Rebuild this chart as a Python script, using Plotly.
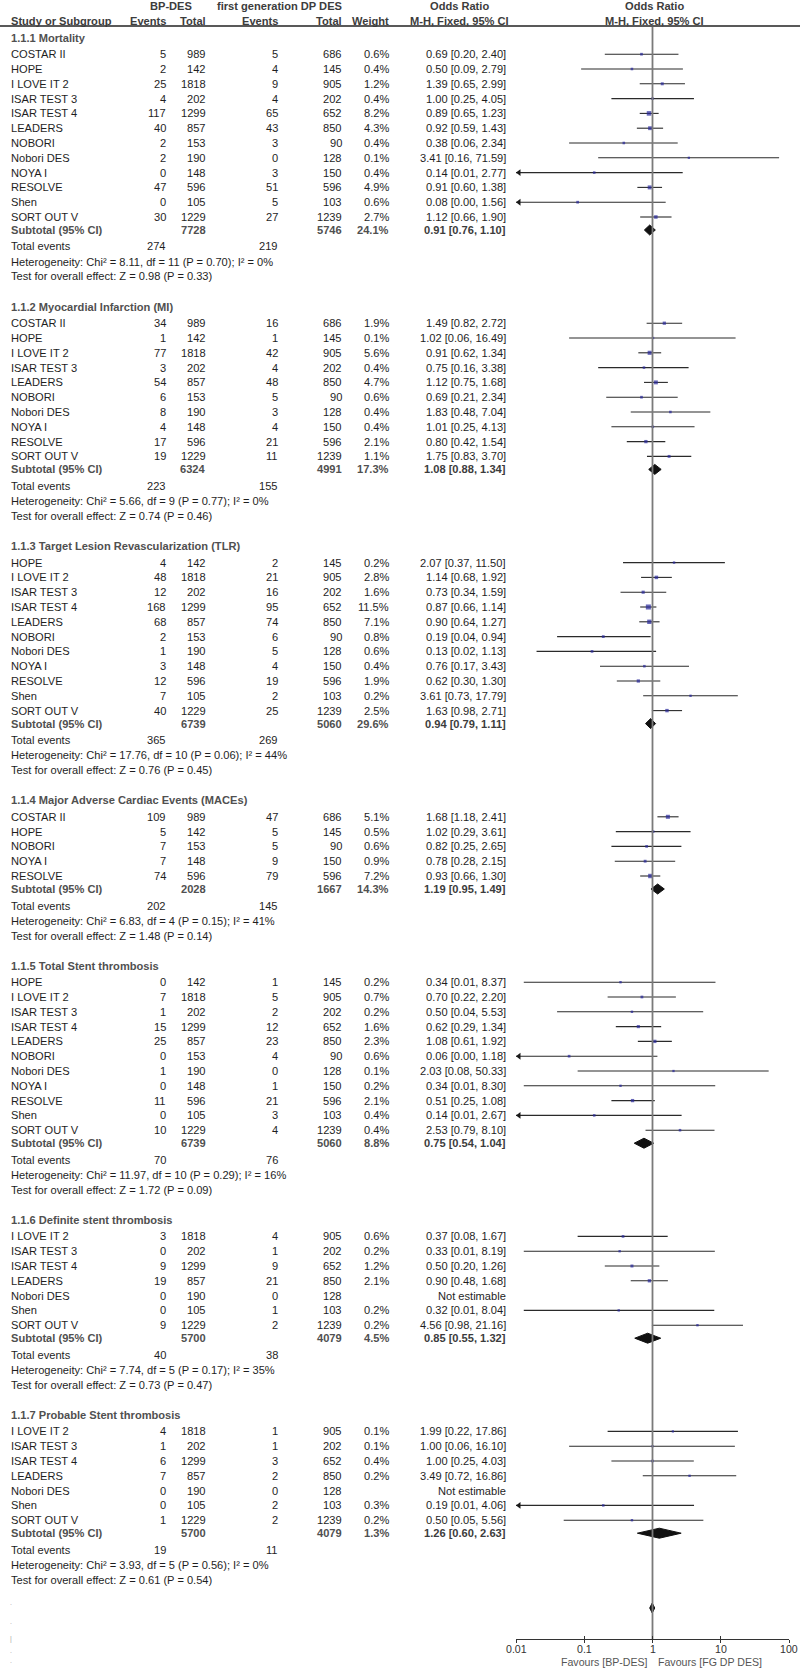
import math
import plotly.graph_objects as go

# ---------------- DATA ----------------
section_titles = [
    "1.1.1 Mortality",
    "1.1.2 Myocardial Infarction (MI)",
    "1.1.3 Target Lesion Revascularization (TLR)",
    "1.1.4 Major Adverse Cardiac Events (MACEs)",
    "1.1.5 Total Stent thrombosis",
    "1.1.6 Definite stent thrombosis",
    "1.1.7 Probable Stent thrombosis",
]

s1_study = ["COSTAR II", "HOPE", "I LOVE IT 2", "ISAR TEST 3", "ISAR TEST 4", "LEADERS", "NOBORI",
            "Nobori DES", "NOYA I", "RESOLVE", "Shen", "SORT OUT V"]
s1_bp_events = [5, 2, 25, 4, 117, 40, 2, 2, 0, 47, 0, 30]
s1_bp_total = [989, 142, 1818, 202, 1299, 857, 153, 190, 148, 596, 105, 1229]
s1_dp_events = [5, 4, 9, 4, 65, 43, 3, 0, 3, 51, 5, 27]
s1_dp_total = [686, 145, 905, 202, 652, 850, 90, 128, 150, 596, 103, 1239]
s1_weight = [0.6, 0.4, 1.2, 0.4, 8.2, 4.3, 0.4, 0.1, 0.4, 4.9, 0.6, 2.7]
s1_or = [0.69, 0.50, 1.39, 1.00, 0.89, 0.92, 0.38, 3.41, 0.14, 0.91, 0.08, 1.12]
s1_lo = [0.20, 0.09, 0.65, 0.25, 0.65, 0.59, 0.06, 0.16, 0.007, 0.60, 0.003, 0.66]
s1_hi = [2.40, 2.79, 2.99, 4.05, 1.23, 1.43, 2.34, 71.59, 2.77, 1.38, 1.56, 1.90]

s2_study = ["COSTAR II", "HOPE", "I LOVE IT 2", "ISAR TEST 3", "LEADERS", "NOBORI", "Nobori DES",
            "NOYA I", "RESOLVE", "SORT OUT V"]
s2_bp_events = [34, 1, 77, 3, 54, 6, 8, 4, 17, 19]
s2_bp_total = [989, 142, 1818, 202, 857, 153, 190, 148, 596, 1229]
s2_dp_events = [16, 1, 42, 4, 48, 5, 3, 4, 21, 11]
s2_dp_total = [686, 145, 905, 202, 850, 90, 128, 150, 596, 1239]
s2_weight = [1.9, 0.1, 5.6, 0.4, 4.7, 0.6, 0.4, 0.4, 2.1, 1.1]
s2_or = [1.49, 1.02, 0.91, 0.75, 1.12, 0.69, 1.83, 1.01, 0.80, 1.75]
s2_lo = [0.82, 0.06, 0.62, 0.16, 0.75, 0.21, 0.48, 0.25, 0.42, 0.83]
s2_hi = [2.72, 16.49, 1.34, 3.38, 1.68, 2.34, 7.04, 4.13, 1.54, 3.70]

s3_study = ["HOPE", "I LOVE IT 2", "ISAR TEST 3", "ISAR TEST 4", "LEADERS", "NOBORI", "Nobori DES",
            "NOYA I", "RESOLVE", "Shen", "SORT OUT V"]
s3_bp_events = [4, 48, 12, 168, 68, 2, 1, 3, 12, 7, 40]
s3_bp_total = [142, 1818, 202, 1299, 857, 153, 190, 148, 596, 105, 1229]
s3_dp_events = [2, 21, 16, 95, 74, 6, 5, 4, 19, 2, 25]
s3_dp_total = [145, 905, 202, 652, 850, 90, 128, 150, 596, 103, 1239]
s3_weight = [0.2, 2.8, 1.6, 11.5, 7.1, 0.8, 0.6, 0.4, 1.9, 0.2, 2.5]
s3_or = [2.07, 1.14, 0.73, 0.87, 0.90, 0.19, 0.13, 0.76, 0.62, 3.61, 1.63]
s3_lo = [0.37, 0.68, 0.34, 0.66, 0.64, 0.04, 0.02, 0.17, 0.30, 0.73, 0.98]
s3_hi = [11.50, 1.92, 1.59, 1.14, 1.27, 0.94, 1.13, 3.43, 1.30, 17.79, 2.71]

s4_study = ["COSTAR II", "HOPE", "NOBORI", "NOYA I", "RESOLVE"]
s4_bp_events = [109, 5, 7, 7, 74]
s4_bp_total = [989, 142, 153, 148, 596]
s4_dp_events = [47, 5, 5, 9, 79]
s4_dp_total = [686, 145, 90, 150, 596]
s4_weight = [5.1, 0.5, 0.6, 0.9, 7.2]
s4_or = [1.68, 1.02, 0.82, 0.78, 0.93]
s4_lo = [1.18, 0.29, 0.25, 0.28, 0.66]
s4_hi = [2.41, 3.61, 2.65, 2.15, 1.30]

s5_study = ["HOPE", "I LOVE IT 2", "ISAR TEST 3", "ISAR TEST 4", "LEADERS", "NOBORI", "Nobori DES",
            "NOYA I", "RESOLVE", "Shen", "SORT OUT V"]
s5_bp_events = [0, 7, 1, 15, 25, 0, 1, 0, 11, 0, 10]
s5_bp_total = [142, 1818, 202, 1299, 857, 153, 190, 148, 596, 105, 1229]
s5_dp_events = [1, 5, 2, 12, 23, 4, 0, 1, 21, 3, 4]
s5_dp_total = [145, 905, 202, 652, 850, 90, 128, 150, 596, 103, 1239]
s5_weight = [0.2, 0.7, 0.2, 1.6, 2.3, 0.6, 0.1, 0.2, 2.1, 0.4, 0.4]
s5_or = [0.34, 0.70, 0.50, 0.62, 1.08, 0.06, 2.03, 0.34, 0.51, 0.14, 2.53]
s5_lo = [0.013, 0.22, 0.04, 0.29, 0.61, 0.003, 0.08, 0.013, 0.25, 0.007, 0.79]
s5_hi = [8.37, 2.20, 5.53, 1.34, 1.92, 1.18, 50.33, 8.30, 1.08, 2.67, 8.10]

s6_study = ["I LOVE IT 2", "ISAR TEST 3", "ISAR TEST 4", "LEADERS", "Nobori DES", "Shen", "SORT OUT V"]
s6_bp_events = [3, 0, 9, 19, 0, 0, 9]
s6_bp_total = [1818, 202, 1299, 857, 190, 105, 1229]
s6_dp_events = [4, 1, 9, 21, 0, 1, 2]
s6_dp_total = [905, 202, 652, 850, 128, 103, 1239]
s6_weight = [0.6, 0.2, 1.2, 2.1, None, 0.2, 0.2]
s6_or = [0.37, 0.33, 0.50, 0.90, None, 0.32, 4.56]
s6_lo = [0.08, 0.013, 0.20, 0.48, None, 0.013, 0.98]
s6_hi = [1.67, 8.19, 1.26, 1.68, None, 8.04, 21.16]

s7_study = ["I LOVE IT 2", "ISAR TEST 3", "ISAR TEST 4", "LEADERS", "Nobori DES", "Shen", "SORT OUT V"]
s7_bp_events = [4, 1, 6, 7, 0, 0, 1]
s7_bp_total = [1818, 202, 1299, 857, 190, 105, 1229]
s7_dp_events = [1, 1, 3, 2, 0, 2, 2]
s7_dp_total = [905, 202, 652, 850, 128, 103, 1239]
s7_weight = [0.1, 0.1, 0.4, 0.2, None, 0.3, 0.2]
s7_or = [1.99, 1.00, 1.00, 3.49, None, 0.19, 0.50]
s7_lo = [0.22, 0.06, 0.25, 0.72, None, 0.007, 0.05]
s7_hi = [17.86, 16.10, 4.03, 16.86, None, 4.06, 5.56]

sub_bp_total = [7728, 6324, 6739, 2028, 6739, 5700, 5700]
sub_dp_total = [5746, 4991, 5060, 1667, 5060, 4079, 4079]
sub_weight = [24.1, 17.3, 29.6, 14.3, 8.8, 4.5, 1.3]
sub_or = [0.91, 1.08, 0.94, 1.19, 0.75, 0.85, 1.26]
sub_lo = [0.76, 0.88, 0.79, 0.95, 0.54, 0.55, 0.60]
sub_hi = [1.10, 1.34, 1.11, 1.49, 1.04, 1.32, 2.63]
tot_bp_events = [274, 223, 365, 202, 70, 40, 19]
tot_dp_events = [219, 155, 269, 145, 76, 38, 11]
het_chi2 = ["8.11", "5.66", "17.76", "6.83", "11.97", "7.74", "3.93"]
het_df = [11, 9, 10, 4, 10, 5, 5]
het_p = ["0.70", "0.77", "0.06", "0.15", "0.29", "0.17", "0.56"]
het_i2 = [0, 0, 44, 41, 16, 35, 0]
z_value = ["0.98", "0.74", "0.76", "1.48", "1.72", "0.73", "0.61"]
z_p = ["0.33", "0.46", "0.45", "0.14", "0.09", "0.47", "0.54"]

overall_or = 0.99
overall_lo = 0.91
overall_hi = 1.08

tick_vals = [0.01, 0.1, 1, 10, 100]
tick_text = ["0.01", "0.1", "1", "10", "100"]
favours_left = "Favours [BP-DES]"
favours_right = "Favours [FG DP DES]"
tail_marks = [".", ".", "|", ".", "."]

sections = [
    (s1_study, s1_bp_events, s1_bp_total, s1_dp_events, s1_dp_total, s1_weight, s1_or, s1_lo, s1_hi),
    (s2_study, s2_bp_events, s2_bp_total, s2_dp_events, s2_dp_total, s2_weight, s2_or, s2_lo, s2_hi),
    (s3_study, s3_bp_events, s3_bp_total, s3_dp_events, s3_dp_total, s3_weight, s3_or, s3_lo, s3_hi),
    (s4_study, s4_bp_events, s4_bp_total, s4_dp_events, s4_dp_total, s4_weight, s4_or, s4_lo, s4_hi),
    (s5_study, s5_bp_events, s5_bp_total, s5_dp_events, s5_dp_total, s5_weight, s5_or, s5_lo, s5_hi),
    (s6_study, s6_bp_events, s6_bp_total, s6_dp_events, s6_dp_total, s6_weight, s6_or, s6_lo, s6_hi),
    (s7_study, s7_bp_events, s7_bp_total, s7_dp_events, s7_dp_total, s7_weight, s7_or, s7_lo, s7_hi),
]

# ---------------- LAYOUT / STYLE ----------------
W, H = 800, 1668
AX_Y = 1639
FONT = "Liberation Sans, Arial, Helvetica, sans-serif"
FS = 11.1
C_TXT = "#1e1e1e"
C_BOLD = "#505050"
C_HEAD = "#3c3c3c"

X_NAME = 10
X_BPE = 167
X_BPT = 207
X_DPE = 279
X_DPT = 343
X_WT = 390
X_OR = 507
X_ORH = 459
X_PLOT_C = 654

Y0 = 37.7
PITCH = 14.8
HEAD_GAP = 16.5
SUB_GAP = 13.0
TOT_GAP = 16.5
LINE_GAP = 15.0
SEC_GAP = 30.2
DIAMOND_H = 5.0

anns = []


def txt(x, y, s, anchor="right", bold=False, color=C_TXT, size=FS):
    anns.append(dict(x=x / W, y=1 - y / H, xref="paper", yref="paper",
                     text=(f"<b>{s}</b>" if bold else s), showarrow=False,
                     xanchor=anchor, yanchor="middle", borderpad=0,
                     font=dict(family=FONT, size=size, color=color)))


def fmt_ci(o, l, h):
    return f"{o:.2f} [{l:.2f}, {h:.2f}]"


# header
txt(171, 6, "BP-DES", "center", True, C_HEAD)
txt(343, 6, "first generation DP DES", "right", True, C_HEAD)
txt(X_ORH, 6, "Odds Ratio", "center", True, C_HEAD)
txt(X_PLOT_C, 6, "Odds Ratio", "center", True, C_HEAD)
txt(X_NAME, 21, "Study or Subgroup", "left", True, C_HEAD)
txt(X_BPE, 21, "Events", "right", True, C_HEAD)
txt(X_BPT, 21, "Total", "right", True, C_HEAD)
txt(X_DPE, 21, "Events", "right", True, C_HEAD)
txt(X_DPT, 21, "Total", "right", True, C_HEAD)
txt(X_WT, 21, "Weight", "right", True, C_HEAD)
txt(X_ORH, 21, "M-H, Fixed, 95% CI", "center", True, C_HEAD)
txt(X_PLOT_C, 21, "M-H, Fixed, 95% CI", "center", True, C_HEAD)

ci_x, ci_y = [], []
pt_x, pt_y, pt_s = [], [], []
arr_y = []
dia_traces = []

y = Y0
for k, (names, bpe, bpt, dpe, dpt, wt, orv, lo, hi) in enumerate(sections):
    txt(X_NAME, y, section_titles[k], "left", True, C_BOLD)
    ys = [y + HEAD_GAP + PITCH * i for i in range(len(names))]
    for i, ry in enumerate(ys):
        txt(X_NAME, ry, names[i], "left")
        txt(X_BPE, ry, str(bpe[i]))
        txt(X_BPT, ry, str(bpt[i]))
        txt(X_DPE, ry, str(dpe[i]))
        txt(X_DPT, ry, str(dpt[i]))
        if orv[i] is None:
            txt(X_OR, ry, "Not estimable")
            continue
        txt(X_WT, ry, f"{wt[i]:.1f}%")
        txt(X_OR, ry, fmt_ci(orv[i], lo[i], hi[i]))
        ci_x += [max(lo[i], tick_vals[0]), min(hi[i], tick_vals[-1]), None]
        ci_y += [ry, ry, None]
        pt_x.append(orv[i])
        pt_y.append(ry)
        pt_s.append(2.0 + 0.9 * math.sqrt(wt[i]))
        if lo[i] < tick_vals[0]:
            arr_y.append(ry)
    sy = ys[-1] + SUB_GAP
    txt(X_NAME, sy, "Subtotal (95% CI)", "left", True, C_BOLD)
    txt(X_BPT, sy, str(sub_bp_total[k]), "right", True, C_BOLD)
    txt(X_DPT, sy, str(sub_dp_total[k]), "right", True, C_BOLD)
    txt(X_WT, sy, f"{sub_weight[k]:.1f}%", "right", True, C_BOLD)
    txt(X_OR, sy, fmt_ci(sub_or[k], sub_lo[k], sub_hi[k]), "right", True, C_HEAD)
    dia_traces.append(([sub_lo[k], sub_or[k], sub_hi[k], sub_or[k], sub_lo[k]],
                       [sy, sy - DIAMOND_H, sy, sy + DIAMOND_H, sy]))
    ty = sy + TOT_GAP
    txt(X_NAME, ty, "Total events", "left")
    txt(X_BPE, ty, str(tot_bp_events[k]))
    txt(X_DPE, ty, str(tot_dp_events[k]))
    hy = ty + LINE_GAP
    txt(X_NAME, hy, f"Heterogeneity: Chi\u00b2 = {het_chi2[k]}, df = {het_df[k]} (P = {het_p[k]}); I\u00b2 = {het_i2[k]}%", "left")
    zy = hy + LINE_GAP
    txt(X_NAME, zy, f"Test for overall effect: Z = {z_value[k]} (P = {z_p[k]})", "left")
    y = zy + SEC_GAP

# tail marks & overall diamond
tail_pos = [1602, 1621, 1639, 1650, 1660]
for m, py in zip(tail_marks, tail_pos):
    txt(9, py, m, "left", False, "#a8a8a8", 7)
oy = 1608
dia_traces.append(([overall_lo, overall_or, overall_hi, overall_or, overall_lo],
                   [oy, oy - DIAMOND_H, oy, oy + DIAMOND_H, oy]))

# tick labels placed on the log axis (annotation x uses log10 on log axes)
for v, t in zip(tick_vals, tick_text):
    anns.append(dict(x=math.log10(v), y=1 - 1648.5 / H, xref="x", yref="paper", text=t,
                     showarrow=False, xanchor="center", yanchor="middle", borderpad=0,
                     font=dict(family=FONT, size=10.6, color="#333333")))

txt(649, 1661.5, favours_left, "right", False, "#555555", 10.6)
txt(657, 1661.5, favours_right, "left", False, "#555555", 10.6)

fig = go.Figure()

# reference line at OR = 1 (on the overlay axis that carries the inward ticks)
fig.add_trace(go.Scatter(x=[1, 1], y=[27, AX_Y], mode="lines", xaxis="x2",
                         line=dict(color="#7a7a7a", width=1.8), hoverinfo="skip"))
# CI lines
fig.add_trace(go.Scatter(x=ci_x, y=ci_y, mode="lines",
                         line=dict(color="#2a2a2a", width=1.1), hoverinfo="skip"))
# arrow heads for truncated CIs
arr_off = 10 ** (math.log10(tick_vals[0]) + 3.0 / 68.25)
fig.add_trace(go.Scatter(x=[arr_off] * len(arr_y), y=arr_y, mode="markers",
                         marker=dict(symbol="triangle-left", size=6, color="#1a1a1a"),
                         cliponaxis=False, hoverinfo="skip"))
# point estimates
fig.add_trace(go.Scatter(x=pt_x, y=pt_y, mode="markers",
                         marker=dict(symbol="square", size=pt_s, color="#26269a", line=dict(width=0)),
                         hoverinfo="skip"))
# diamonds
for dx, dy in dia_traces:
    fig.add_trace(go.Scatter(x=dx, y=dy, mode="lines", fill="toself", fillcolor="#111111",
                             line=dict(color="#111111", width=1), hoverinfo="skip"))

axis_common = dict(type="log", range=[-2, 2], domain=[516 / W, 789 / W], anchor="y",
                   showgrid=False, zeroline=False, tickvals=tick_vals, showticklabels=False,
                   ticklen=3, tickwidth=1, tickcolor="#333333", fixedrange=True)
fig.update_layout(
    width=W, height=H, margin=dict(l=0, r=0, t=0, b=0),
    paper_bgcolor="white", plot_bgcolor="white", showlegend=False,
    annotations=anns,
    shapes=[dict(type="line", xref="paper", yref="paper", x0=0, x1=1, y0=1 - 26 / H, y1=1 - 26 / H,
                 line=dict(color="#222222", width=1.5))],
    xaxis=dict(**axis_common, showline=True, linecolor="#333333", linewidth=1, ticks="outside"),
    xaxis2=dict(**axis_common, overlaying="x", side="bottom", showline=False, ticks="inside"),
    yaxis=dict(range=[AX_Y, 0], domain=[(H - AX_Y) / H, 1], visible=False, fixedrange=True),
)

fig.write_html("out.html", config={"displayModeBar": False},
               post_script="document.body.style.margin='0';")
